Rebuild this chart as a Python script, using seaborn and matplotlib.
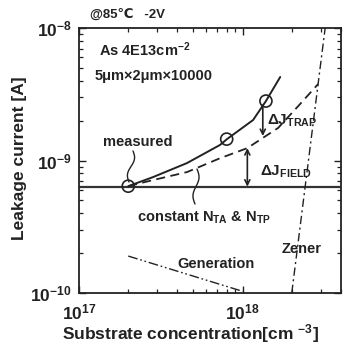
import numpy as np
import pandas as pd
import matplotlib
matplotlib.use("Agg")
import matplotlib.pyplot as plt
from matplotlib.ticker import FixedLocator, LogLocator, NullFormatter, FixedFormatter
import seaborn as sns

# ---------------- data ----------------
measured_x = [2.0e17, 8.0e17, 1.39e18]
measured_y = [6.4e-10, 1.45e-9, 2.81e-9]

solid_x = [2.0e17, 2.84e17, 4.58e17, 7.28e17, 8.03e17, 1.16e18, 1.39e18, 1.70e18]
solid_y = [6.4e-10, 7.5e-10, 9.57e-10, 1.31e-9, 1.45e-9, 2.02e-9, 2.81e-9, 4.27e-9]

dashed_x = [2.0e17, 2.84e17, 4.58e17, 7.28e17, 1.07e18, 1.33e18, 1.65e18, 2.25e18, 2.9e18]
dashed_y = [6.4e-10, 7.12e-10, 8.18e-10, 1.04e-9, 1.24e-9, 1.48e-9, 1.76e-9, 2.67e-9, 3.78e-9]

const_level = 6.35e-10

zener_x = [2.0e18, 3.2e18]
zener_y = [1.0e-10, 1.0e-8]

gen_x = [2.0e17, 1.0e18]
gen_y = [1.9e-10, 1.03e-10]

field_arrow_x = 1.07e18
field_arrow_top = 1.24e-9
trap_arrow_x = 1.33e18
trap_arrow_top = 2.62e-9
trap_arrow_bottom = 1.53e-9

xticks = [1e17, 1e18]
xticklabels = [r"$10^{17}$", r"$10^{18}$"]
yticks = [1e-10, 1e-9, 1e-8]
yticklabels = [r"$10^{-10}$", r"$10^{-9}$", r"$10^{-8}$"]

# ---------------- style ----------------
sns.set_style("ticks")
plt.rcParams["font.family"] = ["Liberation Sans", "DejaVu Sans"]
plt.rcParams["font.weight"] = "bold"
plt.rcParams["axes.labelweight"] = "bold"
plt.rcParams["mathtext.fontset"] = "custom"
plt.rcParams["mathtext.rm"] = "Liberation Sans:bold"
plt.rcParams["mathtext.it"] = "Liberation Sans:bold"
plt.rcParams["mathtext.bf"] = "Liberation Sans:bold"
plt.rcParams["mathtext.default"] = "rm"

INK = "#222222"

fig = plt.figure(figsize=(3.43, 3.46), dpi=100)
ax = fig.add_axes([79 / 343, 1 - 293 / 346, 262 / 343, 265 / 346])
ax.set_xscale("log")
ax.set_yscale("log")
ax.set_xlim(1e17, 4e18)
ax.set_ylim(1e-10, 1e-8)

# lines
ax.axhline(const_level, color="#333333", lw=1.6, zorder=2)
sns.lineplot(x=solid_x, y=solid_y, ax=ax, color=INK, lw=1.4, sort=False, zorder=3)
sns.lineplot(x=dashed_x, y=dashed_y, ax=ax, color=INK, lw=1.3, sort=False,
             linestyle=(0, (5, 3)), zorder=3)
sns.lineplot(x=zener_x, y=zener_y, ax=ax, color=INK, lw=1.0, sort=False,
             linestyle=(0, (6, 2.5, 1.5, 2.5)), zorder=3)
sns.lineplot(x=gen_x, y=gen_y, ax=ax, color=INK, lw=1.0, sort=False,
             linestyle=(0, (7, 2, 1.2, 2, 1.2, 2)), zorder=3)
sns.scatterplot(x=measured_x, y=measured_y, ax=ax, s=75, marker="o",
                facecolor="none", edgecolor=INK, linewidth=1.2, zorder=4)

# arrows
ax.annotate("", xy=(field_arrow_x, const_level), xytext=(field_arrow_x, field_arrow_top),
            arrowprops=dict(arrowstyle="<->", color=INK, lw=1.2, shrinkA=0, shrinkB=0,
                            mutation_scale=9))
ax.annotate("", xy=(trap_arrow_x, trap_arrow_bottom), xytext=(trap_arrow_x, trap_arrow_top),
            arrowprops=dict(arrowstyle="->", color=INK, lw=1.2, shrinkA=0, shrinkB=0,
                            mutation_scale=9))

# squiggle leaders (axes fraction)
def squiggle(x0px, y0px, x1px, y1px, amp=2.5):
    t = np.linspace(0, 1, 40)
    xs = x0px + (x1px - x0px) * t + amp * np.sin(2 * np.pi * t)
    ys = y0px + (y1px - y0px) * t
    ax.plot((xs - 79) / 262, (293 - ys) / 265, transform=ax.transAxes,
            color=INK, lw=1.0, zorder=3, clip_on=False)

squiggle(133, 151, 129, 182)
squiggle(197, 169, 195, 204)

# ticks
ax.xaxis.set_major_locator(FixedLocator(xticks))
ax.xaxis.set_major_formatter(FixedFormatter(xticklabels))
ax.xaxis.set_minor_locator(LogLocator(base=10, subs=np.arange(2, 10)))
ax.xaxis.set_minor_formatter(NullFormatter())
ax.yaxis.set_major_locator(FixedLocator(yticks))
ax.yaxis.set_major_formatter(FixedFormatter(yticklabels))
ax.yaxis.set_minor_locator(LogLocator(base=10, subs=np.arange(2, 10)))
ax.yaxis.set_minor_formatter(NullFormatter())
ax.tick_params(which="both", direction="in", top=True, right=True, color=INK)
ax.tick_params(which="major", length=5, width=1.0, labelsize=12.5, labelcolor=INK)
ax.tick_params(which="minor", length=3, width=0.9)
ax.tick_params(axis="x", which="major", pad=7)
ax.tick_params(axis="y", which="major", pad=5)
for s in ax.spines.values():
    s.set_linewidth(1.3)
    s.set_color(INK)

ax.set_xlabel(r"Substrate concentration[cm $^{-3}$]", fontsize=12.5, color=INK)
ax.xaxis.set_label_coords(0.424, -0.11)
ax.set_ylabel("Leakage current [A]", fontsize=12.5, color=INK)
ax.yaxis.set_label_coords(-0.198, 0.509)

def fx(px):
    return (px - 79) / 262

def fy(py):
    return (293 - py) / 265

tk = dict(transform=ax.transAxes, color=INK, fontweight="bold")
ax.text(fx(99), fy(50), r"As 4E13cm$^{-2}$", fontsize=10.5, va="center", ha="left", **tk)
ax.text(fx(95), fy(76), "5\u03bcm\u00d72\u03bcm\u00d710000", fontsize=10.5, va="center", ha="left", **tk)
ax.text(fx(103), fy(142), "measured", fontsize=10.5, va="center", ha="left", **tk)
ax.text(fx(137), fy(218), r"constant N$_{TA}$ & N$_{TP}$", fontsize=10.5, va="center", ha="left", **tk)
ax.text(fx(267), fy(121), "\u0394J$_{TRAP}$", fontsize=11, va="center", ha="left", **tk)
ax.text(fx(260), fy(172), "\u0394J$_{FIELD}$", fontsize=11, va="center", ha="left", **tk)
ax.text(fx(282), fy(249), "Zener", fontsize=10.5, va="center", ha="left", **tk)
ax.text(fx(177), fy(264), "Generation", fontsize=10.5, va="center", ha="left", **tk)
ax.text(fx(90), fy(15), "@85\u2103   -2V", fontsize=9.5, va="center", ha="left",
        family=["Liberation Sans", "DejaVu Sans"], clip_on=False, **tk)

fig.savefig("out.png", dpi=100)
